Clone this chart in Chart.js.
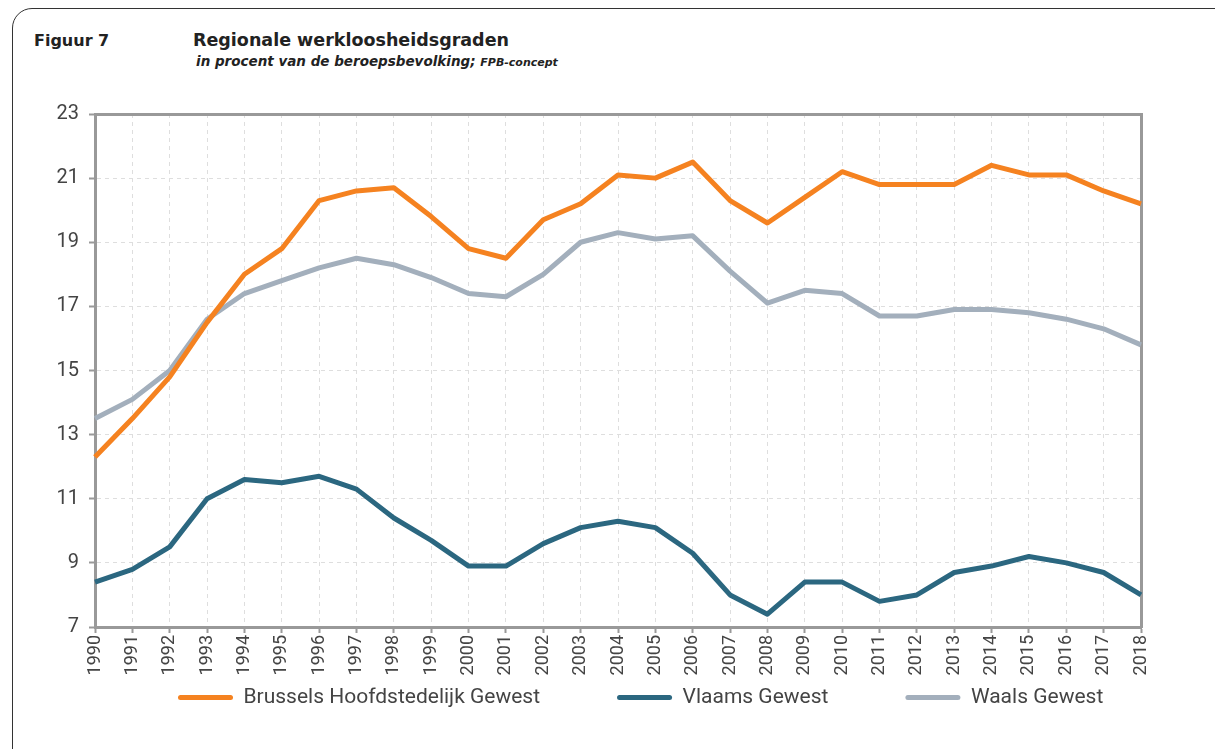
<!DOCTYPE html>
<html>
<head>
<meta charset="utf-8">
<script src="https://cdn.jsdelivr.net/npm/chart.js@4"></script>
<style>
  body { margin: 0; background: #fff; width: 1215px; height: 749px; overflow: hidden; position: relative; font-family: "DejaVu Sans", sans-serif; }
  #frame { position: absolute; left: 12px; top: 8px; width: 1230px; height: 760px; border: 1.5px solid #333; border-radius: 20px; }
  #fig { position: absolute; left: 34px; top: 31px; font-size: 16px; font-weight: bold; color: #222; }
  #title { position: absolute; left: 193px; top: 30px; font-size: 17.5px; font-weight: bold; color: #222; }
  #sub { position: absolute; left: 196px; top: 53px; font-size: 13.5px; font-weight: bold; font-style: italic; color: #222; }
  #sub small { font-size: 11px; }
  #wrap { position: absolute; left: 0; top: 92px; width: 1215px; height: 625px; }
</style>
</head>
<body>
<div id="frame"></div>
<div id="fig">Figuur 7</div>
<div id="title">Regionale werkloosheidsgraden</div>
<div id="sub">in procent van de beroepsbevolking; <small>FPB-concept</small></div>
<div id="wrap"><canvas id="lineChart"></canvas></div>
<script>
'use strict';
// jaren en reeksen
const years = ['1990','1991','1992','1993','1994','1995','1996','1997','1998','1999',
  '2000','2001','2002','2003','2004','2005','2006','2007','2008','2009',
  '2010','2011','2012','2013','2014','2015','2016','2017','2018'];
const brussel = [12.3,13.5,14.8,16.5,18.0,18.8,20.3,20.6,20.7,19.8,
  18.8,18.5,19.7,20.2,21.1,21.0,21.5,20.3,19.6,20.4,
  21.2,20.8,20.8,20.8,21.4,21.1,21.1,20.6,20.2];
const vlaanderen = [8.4,8.8,9.5,11.0,11.6,11.5,11.7,11.3,10.4,9.7,
  8.9,8.9,9.6,10.1,10.3,10.1,9.3,8.0,7.4,8.4,
  8.4,7.8,8.0,8.7,8.9,9.2,9.0,8.7,8.0];
const wallonie = [13.5,14.1,15.0,16.6,17.4,17.8,18.2,18.5,18.3,17.9,
  17.4,17.3,18.0,19.0,19.3,19.1,19.2,18.1,17.1,17.5,
  17.4,16.7,16.7,16.9,16.9,16.8,16.6,16.3,15.8];
const yTicks = [7,9,11,13,15,17,19,21,23];

const LEGEND_PAD = 77;
const X_AXIS_H = 60;

const ctx = document.getElementById('lineChart').getContext('2d');
function serie(label, data, color) {
  return { label: label, data: data, borderColor: color, backgroundColor: color,
    borderWidth: 5, pointRadius: 0, tension: 0, borderJoinStyle: 'round' };
}
const gridOpts = { color: '#dedede', lineWidth: 1, tickColor: '#999', tickLength: 6, tickWidth: 2 };

// legenda compacter maken en direct onder de as zetten
const legendPlacement = {
  id: 'legendPlacement',
  beforeLayout: function(chart) {
    const lg = chart.legend;
    if (lg && !lg._patched) {
      const fit = lg.fit;
      lg.fit = function() { fit.call(this); this.height = 30; };
      lg._patched = true;
    }
  },
  afterLayout: function(chart) {
    const lg = chart.legend;
    const top = chart.chartArea.bottom + X_AXIS_H + 8 - (LEGEND_PAD + 8);
    lg.top = top;
    lg.height = LEGEND_PAD + 34;
    lg.bottom = top + lg.height;
    lg.left = 178 - LEGEND_PAD;
  }
};

new Chart(ctx, {
  type: 'line',
  data: {
    labels: years,
    datasets: [
      serie('Brussels Hoofdstedelijk Gewest', brussel, '#F58220'),
      serie('Vlaams Gewest', vlaanderen, '#2B6780'),
      serie('Waals Gewest', wallonie, '#A3AFBC')
    ]
  },
  options: {
    responsive: true,
    maintainAspectRatio: false,
    animation: false,
    layout: { padding: { top: 8, right: 0, left: 0, bottom: 0 } },
    plugins: {
      tooltip: { enabled: false },
      legend: {
        position: 'bottom',
        align: 'start',
        labels: {
          font: { family: 'Roboto', size: 21 },
          color: '#444',
          boxWidth: 55,
          boxHeight: 5,
          padding: LEGEND_PAD,
          generateLabels: function(chart) {
            return chart.data.datasets.map(function(ds, i) {
              return { text: ds.label, fillStyle: ds.borderColor, strokeStyle: ds.borderColor,
                lineWidth: 0, borderRadius: 2.5, datasetIndex: i, fontColor: '#444' };
            });
          }
        }
      }
    },
    scales: {
      x: {
        grid: gridOpts,
        border: { display: true, color: '#999', width: 3, dash: [4, 4] },
        ticks: { font: { family: 'Roboto', size: 18 }, color: '#444', minRotation: 90, maxRotation: 90, autoSkip: false, padding: 2 },
        afterFit: function(scale) { scale.height = X_AXIS_H; }
      },
      y: {
        min: 7, max: 23,
        afterBuildTicks: function(scale) { scale.ticks = yTicks.map(function(v) { return { value: v }; }); },
        grid: gridOpts,
        border: { display: true, color: '#999', width: 3, dash: [4, 4] },
        ticks: { font: { family: 'Roboto', size: 20 }, color: '#444', padding: 10 },
        afterFit: function(scale) { scale.width = 95; }
      },
      y2: {
        position: 'right', min: 7, max: 23,
        grid: { display: false },
        border: { display: true, color: '#999', width: 3 },
        ticks: { display: false },
        afterFit: function(scale) { scale.width = 74; }
      },
      x2: {
        position: 'top', type: 'category', labels: years,
        grid: { display: false },
        border: { display: true, color: '#999', width: 3 },
        ticks: { display: false },
        afterFit: function(scale) { scale.height = 0; }
      }
    }
  },
  plugins: [legendPlacement]
});
</script>
</body>
</html>
